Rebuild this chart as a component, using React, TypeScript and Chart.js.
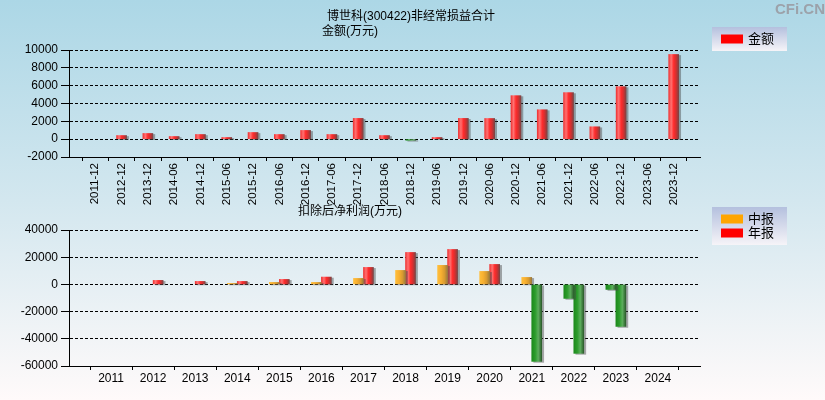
import React, { useEffect, useRef } from 'react';
import { Chart, registerables } from 'chart.js';

Chart.register(...registerables);

const FONT = '"Liberation Sans", "Noto Sans CJK SC", sans-serif';

// ---------- data ----------
const topTitle = '博世科(300422)非经常损益合计';
const topAxisTitle = '金额(万元)';
const topSeriesName = '金额';
const topPeriods = ['2011-12', '2012-12', '2013-12', '2014-06', '2014-12', '2015-06', '2015-12', '2016-06', '2016-12', '2017-06', '2017-12', '2018-06', '2018-12', '2019-06', '2019-12', '2020-06', '2020-12', '2021-06', '2021-12', '2022-06', '2022-12', '2023-06', '2023-12'];
const topValues: (number | null)[] = [null, 410, 640, 300, 525, 190, 750, 525, 980, 525, 2330, 410, -120, 190, 2330, 2320, 4880, 3300, 5220, 1390, 5890, null, 9500];
const topMin = -2000;
const topMax = 10000;
const topStep = 2000;

const bottomAxisTitle = '扣除后净利润(万元)';
const years = ['2011', '2012', '2013', '2014', '2015', '2016', '2017', '2018', '2019', '2020', '2021', '2022', '2023', '2024'];
const midName = '中报';
const annualName = '年报';
const midValues: (number | null)[] = [null, null, null, 740, 1470, 1470, 4400, 10300, 14000, 9560, 5150, -10300, -3700, null];
const annualValues: (number | null)[] = [null, 2950, 2200, 2200, 3680, 5400, 12500, 23500, 25700, 14700, -56600, -50700, -30900, null];
const bottomMin = -60000;
const bottomMax = 40000;
const bottomStep = 20000;

const watermark = 'CFi.CN';

// ---------- styles ----------
const RED = '#ff0000';
const ORANGE = '#ffa500';
const BAR = 10;

const gradStops: Record<string, [number, string][]> = {
  red: [[0, '#f03434'], [0.25, '#ff7272'], [0.5, '#ff2c2c'], [0.75, '#d03030'], [1, '#7c4444']],
  orange: [[0, '#ffbe3c'], [0.35, '#f8b030'], [0.7, '#d89a30'], [1, '#9c7a3c']],
  green: [[0, '#1c8a1c'], [0.35, '#2c9c2c'], [0.65, '#5cae5c'], [1, '#2c5c2c']],
};

function barFill(kind: string, offset: number) {
  return (c: any) => {
    const solid = kind === 'orange' ? ORANGE : RED;
    if (c.type !== 'data') return solid;
    const chart = c.chart;
    const xs = chart.scales && chart.scales.x;
    if (!xs) return solid;
    const v = c.raw;
    const k = v != null && v < 0 ? 'green' : kind;
    const center = xs.getPixelForValue(c.dataIndex) + offset;
    if (!isFinite(center)) return solid;
    const g = chart.ctx.createLinearGradient(center - BAR / 2, 0, center + BAR / 2, 0);
    gradStops[k].forEach(([p, col]) => g.addColorStop(p, col));
    return g;
  };
}

const shadowPlugin = {
  id: 'barShadow',
  beforeDatasetDraw(chart: any) {
    const ctx = chart.ctx;
    ctx.save();
    ctx.shadowColor = 'rgba(70,70,70,0.45)';
    ctx.shadowOffsetX = 2;
    ctx.shadowOffsetY = 1;
    ctx.shadowBlur = 0;
  },
  afterDatasetDraw(chart: any) {
    chart.ctx.restore();
  },
};

type TextItem = { text: string; x: number; y: number; size: number; bold?: boolean; color?: string };
type LegendCfg = { x: number; y: number; w: number; h: number; items: { label: string; color: string }[] };

function makeDecor(texts: TextItem[], legend: LegendCfg) {
  return {
    id: 'decor',
    afterDraw(chart: any) {
      const ctx = chart.ctx as CanvasRenderingContext2D;
      ctx.save();
      ctx.textAlign = 'center';
      ctx.textBaseline = 'middle';
      texts.forEach((t) => {
        ctx.font = `${t.bold ? 'bold ' : ''}${t.size}px ${FONT}`;
        ctx.fillStyle = t.color || '#000';
        ctx.fillText(t.text, t.x, t.y);
      });
      const g = ctx.createLinearGradient(0, legend.y, 0, legend.y + legend.h);
      g.addColorStop(0, '#b4c0de');
      g.addColorStop(1, '#f6f4f8');
      ctx.fillStyle = g;
      ctx.fillRect(legend.x, legend.y, legend.w, legend.h);
      ctx.textAlign = 'left';
      ctx.font = `13px ${FONT}`;
      const n = legend.items.length;
      const startY = legend.y + (legend.h - (n * 14 - 5)) / 2;
      legend.items.forEach((it, i) => {
        const sy = startY + i * 14;
        ctx.fillStyle = it.color;
        ctx.fillRect(legend.x + 9, sy, 22, 9);
        ctx.fillStyle = '#000';
        ctx.fillText(it.label, legend.x + 36, sy + 5);
      });
      ctx.restore();
    },
  };
}

function axes(min: number, max: number, step: number, xHeight: number, rotate: boolean) {
  return {
    x: {
      type: 'category',
      offset: false,
      grid: { display: true, drawOnChartArea: false, drawTicks: true, tickLength: 4, color: '#000', tickColor: '#000' },
      border: { display: true, color: '#000', width: 1 },
      ticks: {
        autoSkip: false,
        maxRotation: rotate ? 90 : 0,
        minRotation: rotate ? 90 : 0,
        padding: rotate ? 2 : 1,
        color: '#000',
        font: { family: FONT, size: rotate ? 11.5 : 12 },
      },
      afterFit: (s: any) => { s.height = xHeight; },
    },
    y: {
      min,
      max,
      ticks: {
        stepSize: step,
        color: '#000',
        padding: 3,
        font: { family: FONT, size: 12 },
        callback: (v: any) => String(v),
      },
      grid: { color: '#000', lineWidth: 1, tickLength: 8, tickColor: '#000', tickBorderDash: [] },
      border: { display: true, color: '#000', width: 1, dash: [3, 2] },
      afterFit: (s: any) => { s.width = 69; },
    },
  };
}

function TopChart() {
  const ref = useRef<HTMLCanvasElement>(null);
  useEffect(() => {
    const chart = new Chart(ref.current!, {
      type: 'bar',
      data: {
        labels: ['', ...topPeriods, ''],
        datasets: [
          {
            label: topSeriesName,
            data: [null, ...topValues, null],
            backgroundColor: barFill('red', 0) as any,
            barThickness: BAR,
          },
        ],
      },
      options: {
        animation: false,
        responsive: false,
        devicePixelRatio: 1,
        layout: { padding: { left: 0, top: 50, right: 125, bottom: 0 } },
        plugins: { legend: { display: false }, tooltip: { enabled: false }, title: { display: false } },
        scales: axes(topMin, topMax, topStep, 53, true) as any,
      },
      plugins: [
        shadowPlugin,
        makeDecor(
          [
            { text: topTitle, x: 411, y: 17, size: 12 },
            { text: topAxisTitle, x: 350, y: 32, size: 12 },
            { text: watermark, x: 800, y: 10, size: 15, bold: true, color: '#9ca2aa' },
          ],
          { x: 712, y: 27, w: 75, h: 24, items: [{ label: topSeriesName, color: RED }] }
        ),
      ],
    });
    return () => chart.destroy();
  }, []);
  return (
    <canvas
      ref={ref}
      width={825}
      height={210}
      style={{ display: 'block', position: 'absolute', left: 0, top: 0, width: 825, height: 210 }}
    />
  );
}

function BottomChart() {
  const ref = useRef<HTMLCanvasElement>(null);
  useEffect(() => {
    const chart = new Chart(ref.current!, {
      type: 'bar',
      data: {
        labels: ['', ...years, ''],
        datasets: [
          {
            label: midName,
            data: [null, ...midValues, null],
            backgroundColor: barFill('orange', -BAR / 2) as any,
            barThickness: BAR,
          },
          {
            label: annualName,
            data: [null, ...annualValues, null],
            backgroundColor: barFill('red', BAR / 2) as any,
            barThickness: BAR,
          },
        ],
      },
      options: {
        animation: false,
        responsive: false,
        devicePixelRatio: 1,
        layout: { padding: { left: 0, top: 30, right: 125, bottom: 0 } },
        plugins: { legend: { display: false }, tooltip: { enabled: false }, title: { display: false } },
        scales: axes(bottomMin, bottomMax, bottomStep, 34, false) as any,
      },
      plugins: [
        shadowPlugin,
        makeDecor(
          [{ text: bottomAxisTitle, x: 350, y: 12, size: 12 }],
          {
            x: 712,
            y: 7,
            w: 75,
            h: 38,
            items: [
              { label: midName, color: ORANGE },
              { label: annualName, color: RED },
            ],
          }
        ),
      ],
    });
    return () => chart.destroy();
  }, []);
  return (
    <canvas
      ref={ref}
      width={825}
      height={200}
      style={{ display: 'block', position: 'absolute', left: 0, top: 200, width: 825, height: 200 }}
    />
  );
}

export default function App() {
  return (
    <div
      style={{
        position: 'absolute',
        left: 0,
        top: 0,
        width: 825,
        height: 400,
        overflow: 'hidden',
        background: 'linear-gradient(to bottom, #acd7e6 0%, #d3e7ef 50%, #fffafa 100%)',
      }}
    >
      <TopChart />
      <BottomChart />
    </div>
  );
}
